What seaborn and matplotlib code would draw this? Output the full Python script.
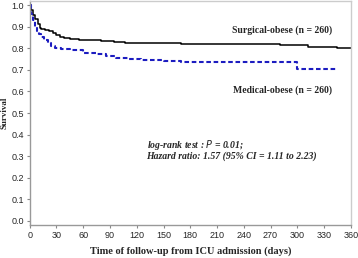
import matplotlib as mpl
import seaborn as sns
import pandas as pd
import numpy as np

plt = mpl.pyplot

# Kaplan-Meier curves
surgical_days = [0, 2, 4, 6, 9, 11, 13, 17, 22, 26, 30, 34, 38, 45, 55, 70, 80, 94, 107, 170, 281, 312, 345, 360]
surgical_surv = [1.0, 0.975, 0.955, 0.935, 0.91, 0.895, 0.888, 0.884, 0.88, 0.87, 0.86, 0.852, 0.847, 0.842,
                 0.84, 0.838, 0.835, 0.828, 0.822, 0.82, 0.813, 0.805, 0.80, 0.80]
medical_days = [0, 2, 4, 6, 8, 10, 13, 16, 20, 24, 28, 35, 45, 60, 75, 85, 97, 110, 125, 150, 170, 235, 300, 345]
medical_surv = [1.0, 0.96, 0.93, 0.9, 0.88, 0.865, 0.852, 0.838, 0.822, 0.81, 0.80, 0.795, 0.79, 0.78, 0.772,
                0.765, 0.755, 0.748, 0.745, 0.74, 0.737, 0.735, 0.705, 0.705]
groups = ['Surgical-obese (n = 260)', 'Medical-obese (n = 260)']
x_ticks = list(range(0, 361, 30))
y_ticks = [0.0, 0.1, 0.2, 0.3, 0.4, 0.5, 0.6, 0.7, 0.8, 0.9, 1.0]

data = pd.DataFrame({
    'day': surgical_days + medical_days,
    'surv': surgical_surv + medical_surv,
    'group': [groups[0]] * len(surgical_days) + [groups[1]] * len(medical_days),
})

sns.set_style('ticks')
mpl.rcParams['font.family'] = 'Liberation Sans'
mpl.rcParams['font.size'] = 6.5

fig = plt.figure(figsize=(3.58, 2.58), dpi=100)
ax = fig.add_axes([0.083, 0.128, 0.897, 0.868])

sns.lineplot(data=data, x='day', y='surv', hue='group', style='group',
             palette={groups[0]: 'black', groups[1]: '#1c1cc0'},
             dashes={groups[0]: '', groups[1]: (2.2, 1.3)},
             drawstyle='steps-post', estimator=None, legend=False, ax=ax)
ax.lines[0].set_linewidth(1.1)
ax.lines[1].set_linewidth(1.5)

ax.set_xlim(0, 360)
ax.set_ylim(-0.0185, 1.0185)
ax.set_xticks(x_ticks)
ax.set_yticks(y_ticks)
ax.set_yticklabels([f'{v:.1f}' for v in y_ticks])
ax.tick_params(length=2.5, width=0.8, color='#888888', labelsize=6.5, pad=1.5)

for side in ['left', 'bottom']:
    ax.spines[side].set_color('#999999')
    ax.spines[side].set_linewidth(1.0)
for side in ['top', 'right']:
    ax.spines[side].set_visible(True)
    ax.spines[side].set_color('#cccccc')
    ax.spines[side].set_linewidth(1.0)

serif = 'Liberation Serif'
ax.set_ylabel('Survival', fontfamily=serif, fontweight='bold', fontsize=6.5, labelpad=2)
ax.set_xlabel('Time of follow-up from ICU admission (days)', fontfamily=serif,
              fontweight='bold', fontsize=7.5, labelpad=5)

ax.text(283, 0.885, groups[0], fontfamily=serif, fontweight='bold', fontsize=7, ha='center', va='center')
ax.text(283, 0.605, groups[1], fontfamily=serif, fontweight='bold', fontsize=7, ha='center', va='center')
ax.text(131, 0.353, 'log-rank test : $\\mathbf{\\mathit{P}}$ = 0.01;', fontfamily=serif, fontweight='bold',
        fontstyle='italic', fontsize=7, ha='left', va='center')
ax.text(131, 0.298, 'Hazard ratio: 1.57 (95% CI = 1.11 to 2.23)', fontfamily=serif, fontweight='bold',
        fontstyle='italic', fontsize=7, ha='left', va='center')

plt.savefig('out.png', dpi=100)
